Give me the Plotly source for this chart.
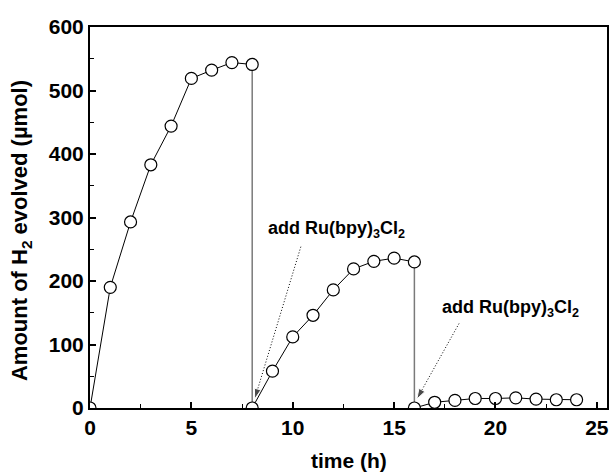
import plotly.graph_objects as go

# Hydrogen evolution over three runs (photosensitiser re-added at 8 h and 16 h)
time_run1 = [0, 1, 2, 3, 4, 5, 6, 7, 8]
h2_run1 = [0, 190, 293, 383, 444, 519, 532, 544, 541]

time_run2 = [8, 9, 10, 11, 12, 13, 14, 15, 16]
h2_run2 = [0, 58, 112, 146, 186, 219, 231, 236, 230]

time_run3 = [16, 17, 18, 19, 20, 21, 22, 23, 24]
h2_run3 = [0, 9, 12, 15, 15, 16, 14, 13, 13]

x_ticks = [0, 5, 10, 15, 20, 25]
y_ticks = [0, 100, 200, 300, 400, 500, 600]

add_label = "add Ru(bpy)<sub>3</sub>Cl<sub>2</sub>"
add_times = [time_run2[0], time_run3[0]]

FONT = "Arial, Liberation Sans, sans-serif"

fig = go.Figure()

# grey drop lines at the moments the dye is added
for xs, ys in [(time_run1, h2_run1), (time_run2, h2_run2)]:
    fig.add_trace(go.Scatter(
        x=[xs[-1], xs[-1]], y=[ys[-1], 0], mode="lines",
        line=dict(color="#7a7a7a", width=1.5), showlegend=False, hoverinfo="skip"))

# dotted arrows pointing at the restart points
arrow_offsets = [(2.4, 254), (2.2, 133)]
for t0, (dx, ystart) in zip(add_times, arrow_offsets):
    fig.add_trace(go.Scatter(
        x=[t0 + dx, t0 + 0.12], y=[ystart, 14], mode="lines+markers",
        line=dict(color="black", width=1, dash="1px,2px"),
        marker=dict(symbol="arrow", size=[0, 11], angleref="previous", color="black"),
        showlegend=False, hoverinfo="skip"))

for xs, ys in [(time_run1, h2_run1), (time_run2, h2_run2), (time_run3, h2_run3)]:
    fig.add_trace(go.Scatter(
        x=xs, y=ys, mode="lines+markers",
        line=dict(color="black", width=1),
        marker=dict(symbol="circle", size=12, color="white",
                    line=dict(color="black", width=1.2)),
        showlegend=False))

axis_common = dict(
    showline=True, linecolor="black", linewidth=2, mirror=True,
    ticks="inside", ticklen=6, tickwidth=1.5, tickcolor="black",
    showgrid=False, zeroline=False,
    tickfont=dict(family=FONT, size=21, color="black", weight="bold"),
)

fig.update_xaxes(range=[0, 25.5], tickvals=x_ticks,
                 minor=dict(ticks="inside", ticklen=4, tickwidth=1.2, dtick=2.5,
                            tick0=0, tickcolor="black"),
                 **axis_common)
fig.update_yaxes(range=[0, 600], tickvals=y_ticks,
                 minor=dict(ticks="inside", ticklen=4, tickwidth=1.2, dtick=50,
                            tick0=0, tickcolor="black"),
                 **axis_common)

annotations = [
    dict(text="time (h)", x=0.5, y=-0.139, xref="paper", yref="paper",
         showarrow=False, xanchor="center", yanchor="middle",
         font=dict(family=FONT, size=21, color="black", weight="bold")),
    dict(text="Amount of H<sub>2</sub> evolved (µmol)", x=-0.133, y=0.465,
         xref="paper", yref="paper", textangle=-90, showarrow=False,
         xanchor="center", yanchor="middle",
         font=dict(family=FONT, size=22, color="black", weight="bold")),
]
for t0, (lx, ly) in zip(add_times, [(4.14, 281), (4.76, 157)]):
    annotations.append(dict(
        text=add_label, x=t0 + lx, y=ly, xref="x", yref="y",
        showarrow=False, xanchor="center", yanchor="middle",
        font=dict(family=FONT, size=18, color="black", weight="bold")))

fig.update_layout(
    width=614, height=475,
    margin=dict(l=90, r=5, t=27, b=67),
    paper_bgcolor="white", plot_bgcolor="white",
    annotations=annotations,
)

fig.write_html("out.html")
